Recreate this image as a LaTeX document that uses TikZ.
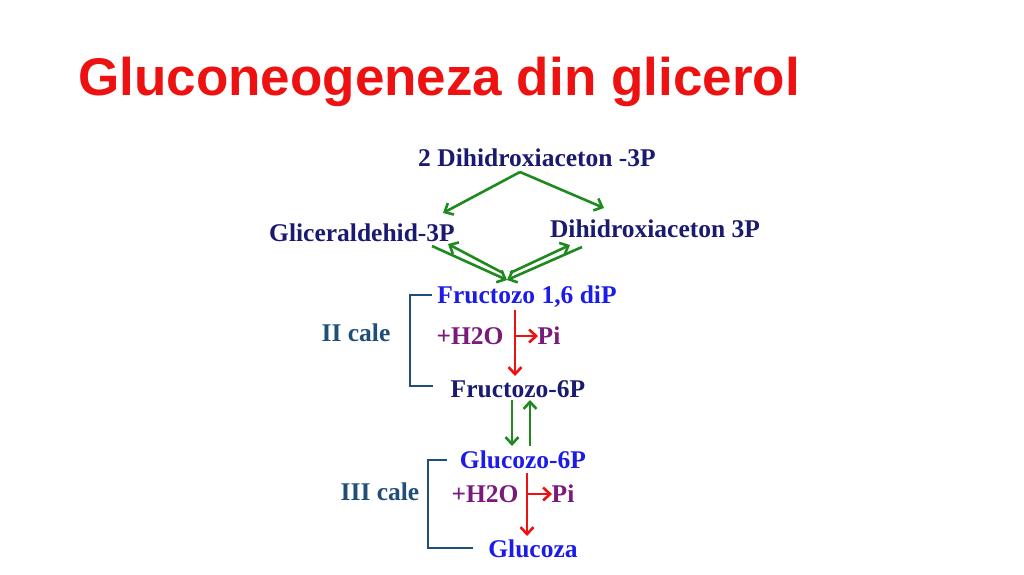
\documentclass[tikz,border=0pt]{standalone}
\usepackage{fontspec}
\setmainfont{Liberation Serif}
\newfontfamily\titlefont{Liberation Sans}
\definecolor{navy}{HTML}{1A1A70}
\definecolor{bblue}{HTML}{1C1CE8}
\definecolor{purp}{HTML}{7A1A7A}
\definecolor{grn}{HTML}{1E8A1E}
\definecolor{brk}{HTML}{1F4E79}
\definecolor{tred}{HTML}{EE1111}
\usetikzlibrary{arrows.meta}
\begin{document}
\begin{tikzpicture}[x=1pt,y=-1pt,
  lbl/.style={font=\fontsize{25.5}{28}\selectfont\bfseries,inner sep=0pt,anchor=center},
  garr/.style={draw=grn,line width=2.6pt,-{Straight Barb[length=7pt,width=13pt]}},
  rarr/.style={draw=tred,line width=2.6pt,-{Straight Barb[length=7pt,width=13pt]}},
  brkline/.style={draw=brk,line width=2.8pt}]
\useasboundingbox (0,0) rectangle (1024,574);
\node[font=\titlefont\fontsize{53}{56}\selectfont\bfseries,text=tred,anchor=west,inner sep=0pt] (title) at (78,82) {Gluconeogeneza din glicerol};
\node[lbl,text=navy] (dha2) at (537,158) {2 Dihidroxiaceton -3P};
\node[lbl,text=navy] (gla) at (362,233) {Gliceraldehid-3P};
\node[lbl,text=navy] (dha) at (655,229) {Dihidroxiaceton 3P};
\node[lbl,text=bblue] (f16) at (527,297) {Fructozo 1,6 diP};
\node[lbl,text=brk] (c2) at (356,333) {II cale};
\node[lbl,text=purp] (h1) at (470,336) {+H2O};
\node[lbl,text=purp] (pi1) at (549,336) {Pi};
\node[lbl,text=navy] (f6) at (518,389) {Fructozo-6P};
\node[lbl,text=bblue] (g6) at (523,460) {Glucozo-6P};
\node[lbl,text=brk] (c3) at (380,492) {III cale};
\node[lbl,text=purp] (h2) at (485,494) {+H2O};
\node[lbl,text=purp] (pi2) at (563,494) {Pi};
\node[lbl,text=bblue] (glc) at (533,549) {Glucoza};
% coordinates
\coordinate (top) at (520,172);
\coordinate (a1) at (443,213);
\coordinate (a2) at (604,208);
\coordinate (m) at (507,280);
\coordinate (l1) at (432,246);
\coordinate (l2) at (503,273);
\coordinate (l3) at (448,244);
\coordinate (r1) at (582,247);
\coordinate (r2) at (510,273);
\coordinate (r3) at (570,245);
\draw[garr] (top) -- (a1);
\draw[garr] (top) -- (a2);
\draw[garr] (l1) -- (m);
\draw[garr] (l2) -- (l3);
\draw[garr] (r1) -- (m);
\draw[garr] (r2) -- (r3);
% red arrows
\coordinate (rs1) at (515,310);
\coordinate (rm1) at (515,336);
\coordinate (re1) at (515,376);
\coordinate (rh1) at (538,336);
\draw[rarr] (rs1) -- (re1);
\draw[rarr] (rm1) -- (rh1);
\coordinate (rs2) at (527,473);
\coordinate (rm2) at (527,494);
\coordinate (re2) at (527,536);
\coordinate (rh2) at (552,494);
\draw[rarr] (rs2) -- (re2);
\draw[rarr] (rm2) -- (rh2);
% green f6 <-> g6
\coordinate (d1) at (512,400);
\coordinate (d2) at (512,446);
\coordinate (u1) at (530,446);
\coordinate (u2) at (530,400);
\draw[garr] (d1) -- (d2);
\draw[garr] (u1) -- (u2);
% brackets
\draw[brkline] (432,295) -- (410,295) -- (410,386) -- (433,386);
\draw[brkline] (447,460) -- (428,460) -- (428,548) -- (473,548);
\end{tikzpicture}
\end{document}
